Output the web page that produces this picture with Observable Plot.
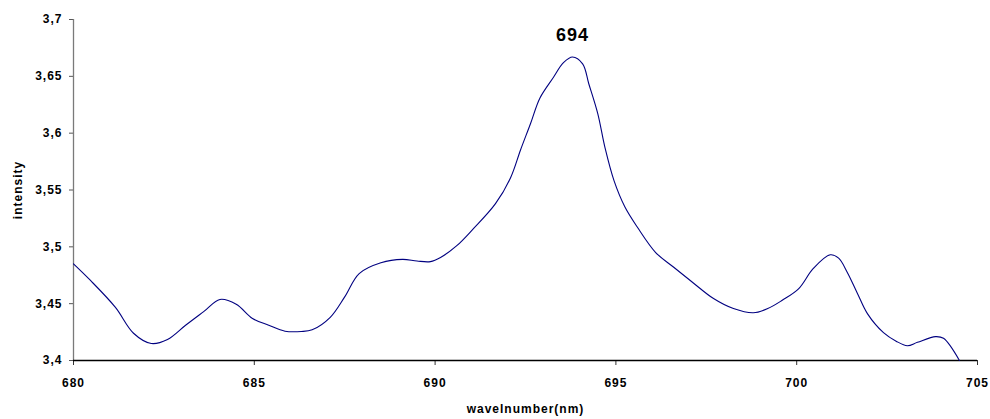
<!DOCTYPE html>
<html>
<head>
<meta charset="utf-8">
<script src="https://cdn.jsdelivr.net/npm/d3@7"></script>
<script src="https://cdn.jsdelivr.net/npm/@observablehq/plot@0.6"></script>
<style>
  html, body { margin: 0; padding: 0; background: #fff; }
  #chart svg { display: block; }
</style>
</head>
<body>
<div id="chart"></div>
<script>
const wavelength = [680, 680.47, 681.16, 681.66, 682.15, 682.6, 683.1, 683.6, 684.05, 684.5, 684.95, 685.4, 685.85, 686.3, 686.6, 687.1, 687.5, 687.9, 688.5, 689.1, 689.5, 689.87, 690.15, 690.6, 691.06, 691.67, 692.09, 692.36, 692.64, 692.9, 693.27, 693.55, 693.8, 694.08, 694.25, 694.5, 694.7, 694.95, 695.25, 695.6, 696.1, 696.6, 697.15, 697.7, 698.25, 698.8, 699.2, 699.6, 700.05, 700.46, 700.93, 701.16, 701.4, 701.68, 701.96, 702.4, 702.75, 703.06, 703.34, 703.84, 704.06, 704.5];
const intensity = [3.485, 3.4704, 3.4467, 3.424, 3.415, 3.4185, 3.431, 3.443, 3.4537, 3.4495, 3.437, 3.431, 3.4258, 3.4255, 3.427, 3.438, 3.456, 3.4765, 3.486, 3.489, 3.4875, 3.487, 3.4906, 3.501, 3.516, 3.538, 3.561, 3.585, 3.6085, 3.631, 3.649, 3.662, 3.667, 3.661, 3.6435, 3.617, 3.587, 3.558, 3.535, 3.517, 3.495, 3.482, 3.468, 3.4545, 3.4457, 3.442, 3.4457, 3.453, 3.463, 3.481, 3.493, 3.490, 3.4775, 3.459, 3.441, 3.4245, 3.417, 3.413, 3.416, 3.421, 3.4195, 3.40];
const xTicks = [680, 685, 690, 695, 700, 705];
const yTicks = [3.4, 3.45, 3.5, 3.55, 3.6, 3.65, 3.7];
const yTickLabels = ["3,4", "3,45", "3,5", "3,55", "3,6", "3,65", "3,7"];
const peakLabel = [{x: 693.8, y: 3.667, text: "694"}];
const xTitle = "wavelnumber(nm)";
const yTitle = "intensity";

const data = wavelength.map((w, i) => ({w, v: intensity[i]}));

const chart = Plot.plot({
  width: 990,
  height: 419,
  marginLeft: 73,
  marginRight: 13,
  marginTop: 19,
  marginBottom: 59,
  style: {fontFamily: "'Liberation Sans', Arial, sans-serif", fontSize: "12px", fontWeight: "bold", background: "#fff", letterSpacing: "1px"},
  x: {domain: [680, 705]},
  y: {domain: [3.4, 3.7]},
  marks: [
    Plot.axisY({ticks: yTicks, tickFormat: d => yTickLabels[yTicks.indexOf(d)], tickSize: 4, tickPadding: 7, label: null, stroke: "#555", fill: "#000"}),
    Plot.axisX({ticks: xTicks, tickFormat: d => String(d), tickSize: 5, tickPadding: 13, label: null, stroke: "#333", fill: "#000"}),
    Plot.ruleX([680], {stroke: "#7a7a7a", strokeWidth: 1.3}),
    Plot.ruleY([3.4], {stroke: "#000", strokeWidth: 1.3}),
    Plot.line(data, {x: "w", y: "v", stroke: "#000080", strokeWidth: 1.1, curve: "catmull-rom"}),
    Plot.text(peakLabel, {x: "x", y: "y", text: "text", dy: -22, fontSize: 18, fontWeight: "bold", fill: "#000"}),
    Plot.text([xTitle], {frameAnchor: "bottom", textAnchor: "middle", lineAnchor: "middle", dy: 49, fontSize: 12, fontWeight: "bold", fill: "#000"}),
    Plot.text([yTitle], {frameAnchor: "left", textAnchor: "middle", lineAnchor: "middle", dx: -55, rotate: -90, fontSize: 12, fontWeight: "bold", fill: "#000"})
  ]
});
document.getElementById("chart").appendChild(chart);
</script>
</body>
</html>
